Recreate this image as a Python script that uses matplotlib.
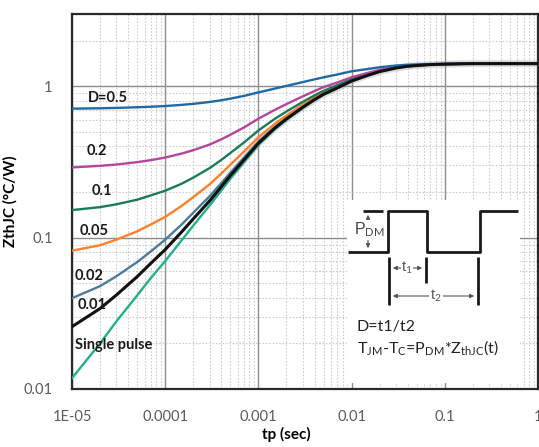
import numpy as np
import matplotlib
matplotlib.use('Agg')
import matplotlib.pyplot as plt
from matplotlib.patches import Rectangle

plt.rcParams['font.family'] = ['Lato', 'DejaVu Sans']
plt.rcParams['mathtext.fontset'] = 'custom'
plt.rcParams['mathtext.rm'] = 'Lato'

# pulse width (s)
tp = [1e-5, 2e-5, 3e-5, 5e-5, 7e-5, 1e-4, 1.5e-4, 2e-4, 3e-4, 4e-4, 5e-4, 7e-4,
      1e-3, 1.5e-3, 2e-3, 3e-3, 4e-3, 5e-3, 7e-3, 1e-2, 1.5e-2, 2e-2, 3e-2, 4e-2,
      5e-2, 7e-2, 1e-1, 2e-1, 1.0]

# Zth, one list per duty cycle
z_d05 = [0.711, 0.715, 0.719, 0.726, 0.732, 0.740, 0.753, 0.765, 0.787, 0.808, 0.828, 0.863,
         0.91, 0.965, 1.005, 1.065, 1.11, 1.145, 1.195, 1.255, 1.30, 1.335, 1.37, 1.385,
         1.393, 1.40, 1.405, 1.41, 1.41]
z_d02 = [0.291, 0.298, 0.304, 0.315, 0.325, 0.338, 0.359, 0.378, 0.412, 0.446, 0.478, 0.534,
         0.61, 0.698, 0.762, 0.858, 0.93, 0.986, 1.058, 1.146, 1.226, 1.282, 1.338, 1.366,
         1.378, 1.394, 1.40, 1.41, 1.41]
z_d01 = [0.152, 0.159, 0.166, 0.178, 0.190, 0.204, 0.227, 0.249, 0.288, 0.326, 0.362, 0.425,
         0.51, 0.609, 0.681, 0.789, 0.87, 0.933, 1.014, 1.113, 1.203, 1.266, 1.329, 1.36,
         1.374, 1.392, 1.40, 1.41, 1.41]
z_d005 = [0.082, 0.089, 0.097, 0.110, 0.122, 0.137, 0.162, 0.185, 0.225, 0.265, 0.303, 0.370,
          0.46, 0.565, 0.64, 0.755, 0.84, 0.906, 0.992, 1.097, 1.19, 1.258, 1.325, 1.358,
          1.372, 1.39, 1.40, 1.41, 1.41]
z_d002 = [0.0398, 0.0478, 0.0556, 0.0689, 0.081, 0.097, 0.122, 0.146, 0.188, 0.229, 0.268, 0.337,
          0.43, 0.538, 0.616, 0.734, 0.822, 0.89, 0.979, 1.087, 1.185, 1.253, 1.322, 1.356,
          1.371, 1.39, 1.40, 1.41, 1.41]
z_d001 = [0.0258, 0.034, 0.0418, 0.0552, 0.0676, 0.0834, 0.109, 0.133, 0.175, 0.217, 0.257, 0.326,
          0.42, 0.529, 0.608, 0.727, 0.816, 0.885, 0.974, 1.083, 1.182, 1.25, 1.32, 1.355,
          1.37, 1.39, 1.40, 1.41, 1.41]
z_single = [0.0118, 0.020, 0.028, 0.0415, 0.054, 0.070, 0.096, 0.120, 0.163, 0.205, 0.245, 0.315,
            0.41, 0.52, 0.60, 0.72, 0.81, 0.88, 0.97, 1.08, 1.18, 1.25, 1.32, 1.355,
            1.37, 1.39, 1.40, 1.41, 1.41]

series = [
    (z_single, '#22b08a', 'Single pulse'),
    (z_d002, '#4a7b9d', '0.02'),
    (z_d005, '#ff7f2a', '0.05'),
    (z_d01, '#1b7a5e', '0.1'),
    (z_d02, '#b4469b', '0.2'),
    (z_d05, '#1f6aa5', 'D=0.5'),
    (z_d001, '#111111', '0.01'),
]

x_ticks = [1e-5, 1e-4, 1e-3, 1e-2, 1e-1, 1]
x_ticklabels = ['1E-05', '0.0001', '0.001', '0.01', '0.1', '1']
y_ticks = [0.01, 0.1, 1]
y_ticklabels = ['0.01', '0.1', '1']

W, H = 539, 447
fig = plt.figure(figsize=(W / 100, H / 100), dpi=100)
ax = fig.add_axes([72 / W, 1 - 389 / H, (538 - 72) / W, (389 - 14) / H])
ax.set_xscale('log')
ax.set_yscale('log')
ax.set_xlim(1e-5, 1)
ax.set_ylim(0.01, 3)

ax.grid(which='major', color='#8c8c8c', lw=1.0, ls='-')
ax.grid(which='minor', color='#cccccc', lw=0.8, ls=(0, (1.5, 1.5)))
ax.set_axisbelow(True)

# grey glow around the converging curves
t_arr = np.array(tp)
m = t_arr >= 3e-4
ax.plot(t_arr[m], np.array(z_d001)[m], color='#9a9a9a', lw=5, alpha=0.35, zorder=2)

for z, c, lab in series:
    lw = 2.2 if c == '#111111' else 1.7
    ax.plot(tp, z, color=c, lw=lw, zorder=3)

ax.set_xticks(x_ticks)
ax.set_xticklabels(x_ticklabels)
ax.set_yticks(y_ticks)
ax.set_yticklabels(y_ticklabels)
ax.tick_params(which='both', length=0)
ax.tick_params(axis='x', pad=15, labelsize=10.5, labelcolor='#5a5a5a')
ax.tick_params(axis='y', pad=14, labelsize=10.5, labelcolor='#5a5a5a')

for s in ax.spines.values():
    s.set_color('#2a2a2a')
    s.set_linewidth(1.6)

ax.set_xlabel('tp (sec)', fontsize=11, fontweight='bold')
ax.xaxis.set_label_coords((286 - 72) / (538 - 72), (389 - 427) / 375)
ax.set_ylabel('ZthJC (°C/W)', fontsize=11, fontweight='bold')
ax.yaxis.set_label_coords((18 - 72) / (538 - 72), 0.5)


def fx(px):
    return (px - 72) / (538 - 72)


def fy(py):
    return (389 - py) / 375


# curve labels
labels_pos = [('D=0.5', 88, 98), ('0.2', 87, 151), ('0.1', 92, 191), ('0.05', 80, 231),
              ('0.02', 75, 276), ('0.01', 78, 305), ('Single pulse', 75, 345)]
for txt, px, py in labels_pos:
    ax.text(fx(px), fy(py), txt, transform=ax.transAxes, fontsize=10.5,
            fontweight='bold', color='#1a1a1a', ha='left', va='center', zorder=5)

# inset with pulse diagram
ax.add_patch(Rectangle((fx(347), fy(383)), fx(520) - fx(347), fy(200) - fy(383),
                       transform=ax.transAxes, facecolor='white', edgecolor='none', zorder=4))
tr = ax.transAxes
k = dict(color='#1a1a1a', lw=2, transform=tr, zorder=5, solid_capstyle='butt')
pulse_x = [348, 388, 388, 427, 427, 480, 480, 518]
pulse_y = [252, 252, 211, 211, 252, 252, 211, 211]
ax.plot([fx(v) for v in pulse_x], [fy(v) for v in pulse_y], **k)
ax.plot([fx(363), fx(383)], [fy(211), fy(211)], **k)
ax.plot([fx(389), fx(389)], [fy(257), fy(305)], **k)
ax.plot([fx(426), fx(426)], [fy(257), fy(283)], **k)
ax.plot([fx(478), fx(478)], [fy(257), fy(305)], **k)

arr = dict(arrowstyle='<|-|>', color='#555555', lw=0.8, mutation_scale=6)
ax.annotate('', xy=(fx(368), fy(212)), xytext=(fx(368), fy(251)), xycoords=tr,
            textcoords=tr, arrowprops=arr, zorder=5)
ax.annotate('', xy=(fx(390), fy(268)), xytext=(fx(425), fy(268)), xycoords=tr,
            textcoords=tr, arrowprops=arr, zorder=5)
ax.annotate('', xy=(fx(390), fy(296)), xytext=(fx(477), fy(296)), xycoords=tr,
            textcoords=tr, arrowprops=arr, zorder=5)
wb = dict(facecolor='white', edgecolor='none', pad=0.5)
ax.text(fx(369), fy(230), r'P$_{\rm DM}$', transform=tr, fontsize=11.5, color='#444444',
        family='Liberation Sans', ha='center', va='center', bbox=wb, zorder=6)
ax.text(fx(407), fy(268), r't$_1$', transform=tr, fontsize=10.5, color='#555555',
        family='Liberation Sans', ha='center', va='center', bbox=wb, zorder=6)
ax.text(fx(436), fy(296), r't$_2$', transform=tr, fontsize=10.5, color='#555555',
        family='Liberation Sans', ha='center', va='center', bbox=wb, zorder=6)
ax.text(fx(357), fy(327), 'D=t1/t2', transform=tr, fontsize=11.5, color='#222222',
        ha='left', va='center', zorder=6)
ax.text(fx(357), fy(348), r'T$_{\rm JM}$-T$_{\rm C}$=P$_{\rm DM}$*Z$_{\rm thJC}$(t)',
        transform=tr, fontsize=11.5, color='#222222', ha='left', va='center', zorder=6)

fig.savefig('out.png', dpi=100)
